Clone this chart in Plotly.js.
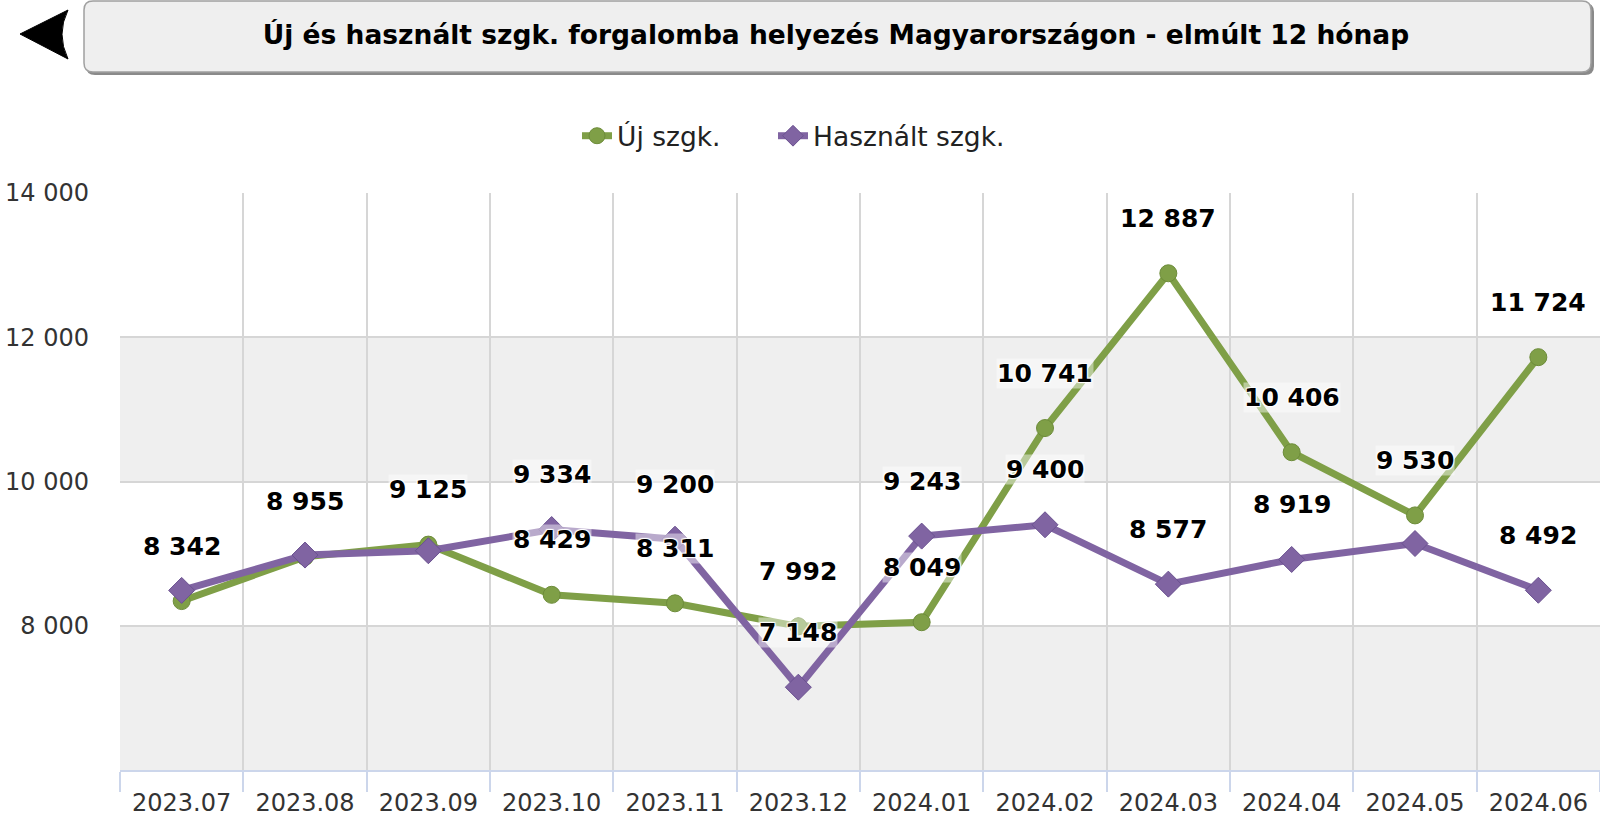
<!DOCTYPE html>
<html>
<head>
<meta charset="utf-8">
<script src="https://cdn.plot.ly/plotly-3.0.1.min.js"></script>
<style>
html,body{margin:0;padding:0;background:#fff;}
#chart{width:1600px;height:825px;}
#err{position:absolute;left:200px;top:300px;color:red;font:14px monospace;}
</style>
</head>
<body>
<div id="chart"></div>
<div id="err"></div>
<script>
// ---- data ----
const months = ["2023.07","2023.08","2023.09","2023.10","2023.11","2023.12","2024.01","2024.02","2024.03","2024.04","2024.05","2024.06"];
const newCars = [8342, 8955, 9125, 8429, 8311, 7992, 8049, 10741, 12887, 10406, 9530, 11724];
const usedCars = [8490, 8980, 9040, 9334, 9200, 7148, 9243, 9400, 8577, 8919, 9140, 8492];
// which labels are visible in the original (overlapping ones hidden)
const newLabelShown = [true,true,true,true,true,true,true,true,true,true,true,true];
const usedLabelShown = [false,false,false,true,true,true,true,true,true,true,false,true];
const seriesNames = ["Új szgk.", "Használt szgk."];
const titleText = "Új és használt szgk. forgalomba helyezés Magyarországon - elmúlt 12 hónap";

try {
// ---- layout geometry (pixels) ----
const W = 1600, H = 825;
const M = {l:120, r:0, t:193, b:55};
const PW = W - M.l - M.r, PH = H - M.t - M.b;
const px = x => (x - M.l) / PW;
const py = y => (H - M.b - y) / PH;

const green = "#7f9f47", purple = "#8064a2";

function fmt(v){ return String(v).replace(/\B(?=(\d{3})+(?!\d))/g, " "); }

const traces = [
  {type:"scatter", mode:"lines+markers", name:seriesNames[0], x:months, y:newCars, legend:"legend",
   line:{color:green, width:7}, marker:{symbol:"circle", size:17, color:green, line:{color:"#6d8c3a", width:1}}},
  {type:"scatter", mode:"lines+markers", name:seriesNames[1], x:months, y:usedCars, legend:"legend2",
   line:{color:purple, width:7}, marker:{symbol:"diamond", size:20, color:purple, line:{color:"#6a5190", width:1}}}
];

const labelFont = {family:"DejaVu Sans", size:25, color:"#000",
  shadow:"1px 1px 1px #fff, -1px -1px 1px #fff, 1px -1px 1px #fff, -1px 1px 1px #fff"};
const annotations = [];
for (let i = 0; i < months.length; i++) {
  if (newLabelShown[i]) annotations.push({x:i, y:newCars[i], xref:"x", yref:"y", text:"<b>"+fmt(newCars[i])+"</b>", showarrow:false, yshift:55, font:labelFont, bgcolor:"rgba(255,255,255,0.45)", borderpad:0});
  if (usedLabelShown[i]) annotations.push({x:i, y:usedCars[i], xref:"x", yref:"y", text:"<b>"+fmt(usedCars[i])+"</b>", showarrow:false, yshift:55, font:labelFont, bgcolor:"rgba(255,255,255,0.45)", borderpad:0});
}

// rounded title box
function roundRect(x0,y0,x1,y1,r){
  const X=px, Y=py;
  return `M ${X(x0+r)} ${Y(y0)} L ${X(x1-r)} ${Y(y0)} Q ${X(x1)} ${Y(y0)} ${X(x1)} ${Y(y0+r)} L ${X(x1)} ${Y(y1-r)} Q ${X(x1)} ${Y(y1)} ${X(x1-r)} ${Y(y1)} L ${X(x0+r)} ${Y(y1)} Q ${X(x0)} ${Y(y1)} ${X(x0)} ${Y(y1-r)} L ${X(x0)} ${Y(y0+r)} Q ${X(x0)} ${Y(y0)} ${X(x0+r)} ${Y(y0)} Z`;
}
const shapes = [
  {type:"rect", xref:"paper", yref:"y", x0:0, x1:1, y0:10000, y1:12000, fillcolor:"#efefef", line:{width:0}, layer:"below"},
  {type:"rect", xref:"paper", yref:"y", x0:0, x1:1, y0:6000, y1:8000, fillcolor:"#efefef", line:{width:0}, layer:"below"},
  {type:"path", xref:"paper", yref:"paper", path:roundRect(86,3,1594,75,9), fillcolor:"#8a8a8a", line:{width:0}, layer:"above"},
  {type:"path", xref:"paper", yref:"paper", path:roundRect(84,1,1591,72,9), fillcolor:"#efefef", line:{color:"#a0a0a0", width:1.5}, layer:"above"},
  {type:"path", xref:"paper", yref:"paper",
   path:`M ${px(20)} ${py(34)} L ${px(68)} ${py(10)} Q ${px(56)} ${py(34)} ${px(68)} ${py(59)} Z`,
   fillcolor:"#000", line:{color:"#000", width:1}, layer:"above"}
];

const legendFont = {family:"DejaVu Sans", size:26.5, color:"#222"};
const layout = {
  width:W, height:H,
  margin:M,
  paper_bgcolor:"#fff", plot_bgcolor:"#fff",
  separators:", ",
  title:{text:"<b>"+titleText+"</b>", x:836/W, xref:"container", xanchor:"center", y:1-35/H, yref:"container", yanchor:"middle",
         font:{family:"DejaVu Sans", size:26.5, color:"#000"}},
  showlegend:true,
  legend:{orientation:"h", x:px(577), xanchor:"left", y:py(136), yanchor:"middle",
          font:legendFont, itemwidth:30, bgcolor:"rgba(0,0,0,0)"},
  legend2:{orientation:"h", x:px(773), xanchor:"left", y:py(136), yanchor:"middle",
          font:legendFont, itemwidth:30, bgcolor:"rgba(0,0,0,0)"},
  xaxis:{type:"category", range:[-0.5, 11.5], tickson:"boundaries", showgrid:true, gridcolor:"#d6d6d6", gridwidth:2,
         showline:true, linecolor:"#ccd6eb", linewidth:2, ticks:"outside", ticklen:20, tickcolor:"#ccd6eb", tickwidth:2,
         tickfont:{family:"DejaVu Sans", size:24, color:"#333"}, ticklabelstandoff:10, fixedrange:true, zeroline:false},
  yaxis:{range:[6000,14000], tickvals:[8000,10000,12000,14000], tickformat:",d", showgrid:true, gridcolor:"#d6d6d6", gridwidth:2,
         zeroline:false, showline:false, ticks:"", ticklabelstandoff:30,
         tickfont:{family:"DejaVu Sans", size:24, color:"#333"}, fixedrange:true},
  shapes:shapes,
  annotations:annotations
};

Plotly.newPlot("chart", traces, layout, {displayModeBar:false, staticPlot:true}).catch(e=>{document.getElementById("err").textContent=String(e);});
} catch(e) { document.getElementById("err").textContent = String(e && e.stack || e); }
</script>
</body>
</html>
